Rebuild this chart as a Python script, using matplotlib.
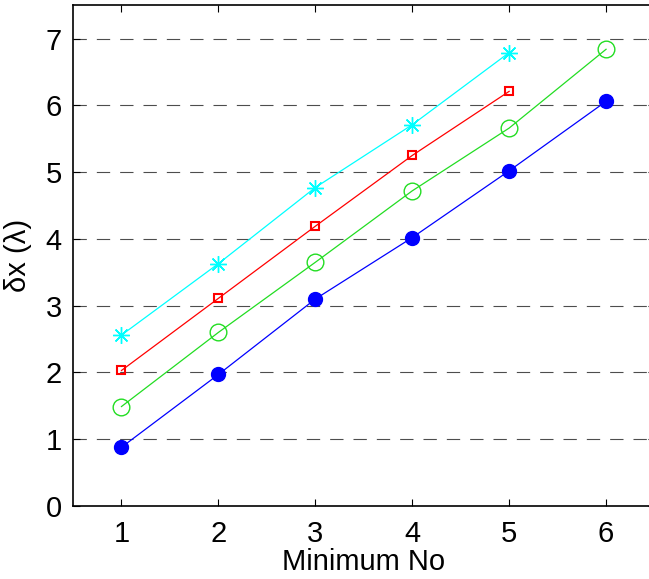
import matplotlib
matplotlib.use("Agg")
import matplotlib.pyplot as plt

# values
x_blue = [1, 2, 3, 4, 5, 6]
y_blue = [0.88, 1.97, 3.10, 4.02, 5.02, 6.06]

x_green = [1, 2, 3, 4, 5, 6]
y_green = [1.49, 2.60, 3.65, 4.72, 5.66, 6.84]

x_red = [1, 2, 3, 4, 5]
y_red = [2.03, 3.11, 4.19, 5.25, 6.21]

x_cyan = [1, 2, 3, 4, 5]
y_cyan = [2.56, 3.63, 4.77, 5.71, 6.79]

xticks = [1, 2, 3, 4, 5, 6]
yticks = [0, 1, 2, 3, 4, 5, 6, 7]

plt.rcParams['font.family'] = ['Liberation Sans', 'DejaVu Sans']

fig = plt.figure(figsize=(6.49, 5.79), dpi=100)
ax = fig.add_axes([0.1125, 0.126, 0.896, 0.865])

for y in yticks[1:]:
    ax.axhline(y, color='0.3', lw=0.8, linestyle=(0, (12, 9)), zorder=1)

ax.plot(x_cyan, y_cyan, color='cyan', lw=0.9, marker=(8, 2, 0), ms=12,
        mew=1.0, zorder=3)
ax.plot(x_red, y_red, color='red', lw=0.9, marker='s', ms=6,
        mfc='none', mec='red', mew=1.5, zorder=3)
ax.plot(x_green, y_green, color='#22dd22', lw=0.9, marker='o', ms=12,
        mfc='none', mec='#22dd22', mew=1.0, zorder=3)
ax.plot(x_blue, y_blue, color='blue', lw=0.9, marker='o', ms=10,
        mfc='blue', mec='blue', zorder=3)

ax.set_xlim(0.5, 6.5)
ax.set_ylim(0, 7.5)
ax.set_xticks(xticks)
ax.set_yticks(yticks)
ax.tick_params(direction='in', length=5, width=0.8, labelsize=21,
               top=True, right=True, pad=8)
ax.tick_params(axis='x', pad=10)
for s in ax.spines.values():
    s.set_linewidth(1.2)

ax.set_xlabel('Minimum No', fontsize=21, labelpad=0)
ax.set_ylabel('δx (λ)', fontsize=21, labelpad=10)

fig.savefig('out.png', dpi=100)
